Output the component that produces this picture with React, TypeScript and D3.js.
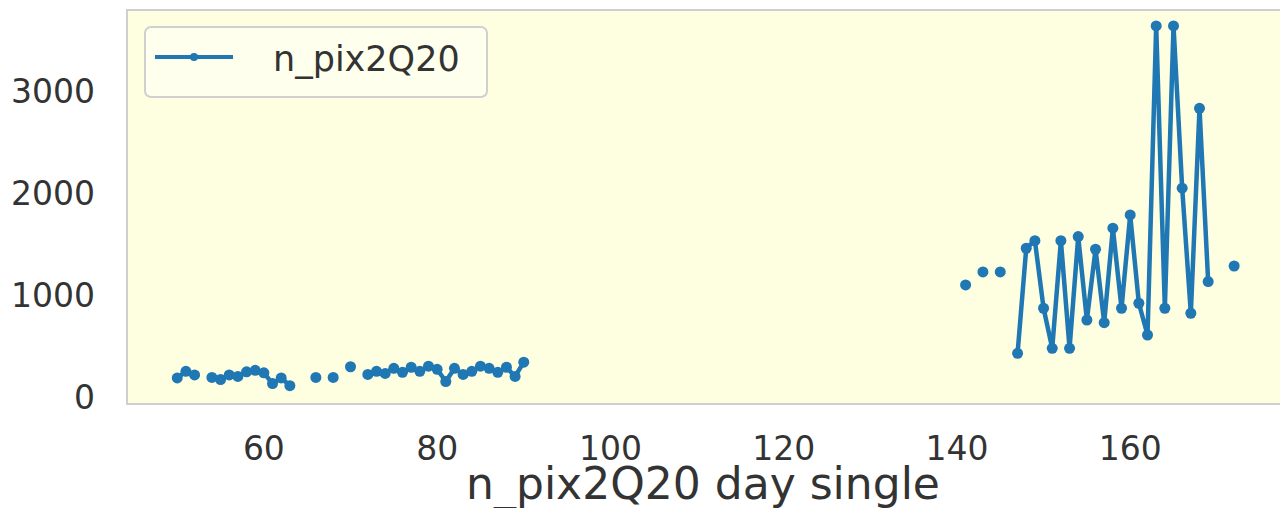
import * as d3 from "d3";
import React from "react";

// day index and n_pix2Q20 counts (null = no data, breaks the line)
const days: number[] = [
  50, 51, 52, 53, 54, 55, 56, 57, 58, 59, 60, 61, 62, 63, 64, 65, 66, 67, 68, 69, 70, 71,
  72, 73, 74, 75, 76, 77, 78, 79, 80, 81, 82, 83, 84, 85, 86, 87, 88, 89, 90, 91,
  140, 141, 142, 143, 144, 145, 146,
  147, 148, 149, 150, 151, 152, 153, 154, 155, 156, 157, 158, 159, 160, 161, 162, 163,
  164, 165, 166, 167, 168, 169, 170, 171, 172,
];
const counts: (number | null)[] = [
  185, 250, 215, null, 190, 170, 215, 200, 245, 260, 235, 130, 185, 110, null, null, 190, null, 190, null, 295, null,
  220, 250, 230, 280, 240, 290, 250, 300, 270, 150, 280, 220, 250, 300, 280, 240, 290, 200, 340, null,
  null, 1096, null, 1224, null, 1224, null,
  427, 1456, 1530, 868, 476, 1530, 476, 1570, 753, 1446, 727, 1652, 868, 1782, 917, 606, 3634,
  868, 3634, 2044, 819, 2827, 1129, null, null, 1282,
];

const xTicks = [60, 80, 100, 120, 140, 160];
const yTicks = [0, 1000, 2000, 3000];
const seriesName = "n_pix2Q20";
const xTitle = "n_pix2Q20 day single";

const W = 1280;
const H = 508;
const left = 127;
const top = 10;
const bottom = 404;
const blue = "#1f77b4";
const font = "DejaVu Sans, sans-serif";

export default function App() {
  const x = d3.scaleLinear().domain([44.2, 178.1]).range([left, 1287]);
  const y = d3.scaleLinear().domain([-70, 3790]).range([bottom, top]);

  const pts = days.map((d, i) => ({ d, v: counts[i] }));
  const line = d3
    .line<{ d: number; v: number | null }>()
    .defined((p) => p.v !== null)
    .x((p) => x(p.d))
    .y((p) => y(p.v as number));

  return (
    <svg
      width={W}
      height={H}
      style={{ position: "absolute", left: 0, top: 0, background: "#fff" }}
      fontFamily={font}
    >
      <rect x={left} y={top} width={W - left + 10} height={bottom - top} fill="#fefee0" stroke="#cfcfcf" strokeWidth={2} />

      <path d={line(pts) || undefined} fill="none" stroke={blue} strokeWidth={4.5} strokeLinejoin="round" />
      {pts
        .filter((p) => p.v !== null)
        .map((p, i) => (
          <circle key={i} cx={x(p.d)} cy={y(p.v as number)} r={5.5} fill={blue} />
        ))}

      {xTicks.map((t) => (
        <text key={t} x={x(t)} y={460} textAnchor="middle" fontSize={33} fill="#333">
          {t}
        </text>
      ))}
      {yTicks.map((t) => (
        <text key={t} x={95} y={y(t)} dy="0.36em" textAnchor="end" fontSize={33} fill="#333">
          {t}
        </text>
      ))}

      <text x={703} y={499} textAnchor="middle" fontSize={44} fill="#333">
        {xTitle}
      </text>

      <g>
        <rect x={145} y={27} width={342} height={70} rx={6} fill="#fffff0" fillOpacity={0.85} stroke="#d0d0d0" strokeWidth={2} />
        <line x1={155} x2={233} y1={57} y2={57} stroke={blue} strokeWidth={4} />
        <circle cx={194} cy={57} r={4} fill={blue} />
        <text x={273} y={71} fontSize={35} fill="#333">
          {seriesName}
        </text>
      </g>
    </svg>
  );
}
